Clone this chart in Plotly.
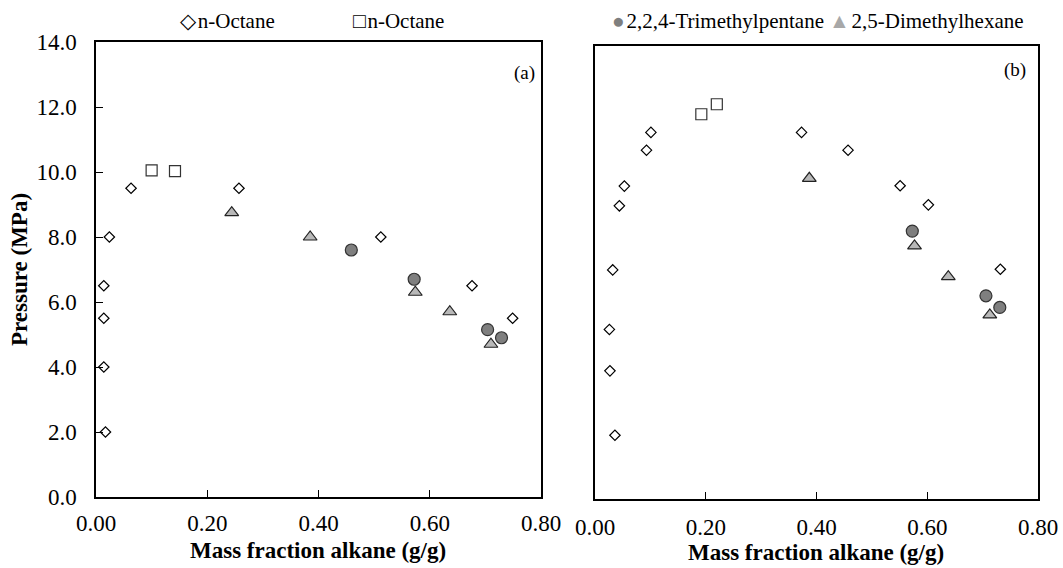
import plotly.graph_objects as go

# ---------------- data ----------------
# Panel (a)
a_oct_diam_x = [0.017, 0.014, 0.014, 0.014, 0.024, 0.063, 0.257, 0.512, 0.676, 0.749]
a_oct_diam_y = [2.0, 4.0, 5.5, 6.5, 8.0, 9.5, 9.5, 8.0, 6.5, 5.5]
a_oct_sq_x = [0.100, 0.142]
a_oct_sq_y = [10.05, 10.03]
a_tmp_x = [0.459, 0.572, 0.704, 0.729]
a_tmp_y = [7.6, 6.7, 5.15, 4.9]
a_dmh_x = [0.244, 0.385, 0.574, 0.636, 0.710]
a_dmh_y = [8.75, 8.0, 6.3, 5.7, 4.7]

# Panel (b)
b_oct_diam_x = [0.036, 0.027, 0.026, 0.032, 0.044, 0.053, 0.093, 0.101, 0.373, 0.457, 0.551, 0.602, 0.732]
b_oct_diam_y = [1.97, 3.96, 5.24, 7.08, 9.06, 9.67, 10.78, 11.33, 11.33, 10.78, 9.68, 9.09, 7.10]
b_oct_sq_x = [0.192, 0.220]
b_oct_sq_y = [11.89, 12.20]
b_tmp_x = [0.573, 0.706, 0.731]
b_tmp_y = [8.28, 6.28, 5.92]
b_dmh_x = [0.387, 0.577, 0.638, 0.713]
b_dmh_y = [9.91, 7.82, 6.87, 5.69]

x_ticks = [0.0, 0.2, 0.4, 0.6, 0.8]
y_ticks = [0, 2, 4, 6, 8, 10, 12, 14]

W, H = 1063, 568
FONT = "Liberation Serif, Times New Roman, serif"

styles = {
    "diam": dict(symbol="diamond", size=8, color="white", line=dict(color="black", width=1.2)),
    "sq": dict(symbol="square", size=11, color="white", line=dict(color="#333333", width=1.2)),
    "tmp": dict(symbol="circle", size=12, color="#7f7f7f", line=dict(color="#333333", width=1.2)),
    "dmh": dict(symbol="triangle-up", size=12, color="#b8b8b8", line=dict(color="#222222", width=1.2)),
}

fig = go.Figure()

def add(xs, ys, key, name, xa, ya):
    fig.add_trace(go.Scatter(x=xs, y=ys, mode="markers", name=name, marker=styles[key],
                             xaxis=xa, yaxis=ya, showlegend=False))

add(a_oct_diam_x, a_oct_diam_y, "diam", "n-Octane", "x", "y")
add(a_oct_sq_x, a_oct_sq_y, "sq", "n-Octane", "x", "y")
add(a_dmh_x, a_dmh_y, "dmh", "2,5-Dimethylhexane", "x", "y")
add(a_tmp_x, a_tmp_y, "tmp", "2,2,4-Trimethylpentane", "x", "y")
add(b_oct_diam_x, b_oct_diam_y, "diam", "n-Octane", "x2", "y2")
add(b_oct_sq_x, b_oct_sq_y, "sq", "n-Octane", "x2", "y2")
add(b_dmh_x, b_dmh_y, "dmh", "2,5-Dimethylhexane", "x2", "y2")
add(b_tmp_x, b_tmp_y, "tmp", "2,2,4-Trimethylpentane", "x2", "y2")

def px(v):
    return v / W

def py(v):
    return 1 - v / H

axis_common = dict(showgrid=False, zeroline=False, showline=True, linecolor="black", linewidth=1.5,
                   mirror=True, automargin=False, tickfont=dict(family=FONT, size=23, color="black"))

fig.update_layout(
    width=W, height=H,
    margin=dict(l=0, r=0, t=0, b=0),
    paper_bgcolor="white", plot_bgcolor="white",
    font=dict(family=FONT, color="black"),
    xaxis=dict(domain=[px(96), px(541)], range=[0, 0.8], tickvals=x_ticks, tickformat=".2f",
               ticks="inside", ticklen=7, tickcolor="black", ticklabelstandoff=5, anchor="y", **axis_common),
    yaxis=dict(domain=[py(497), py(42)], range=[0, 14], tickvals=y_ticks, tickformat=".1f",
               ticks="inside", ticklen=7, tickcolor="black", ticklabelstandoff=13, anchor="x", **axis_common),
    xaxis2=dict(domain=[px(595), px(1038)], range=[0, 0.8], tickvals=x_ticks, tickformat=".2f",
                ticks="inside", ticklen=7, tickcolor="black", ticklabelstandoff=7, anchor="y2", **axis_common),
    yaxis2=dict(domain=[py(499), py(46)], range=[0, 14], showticklabels=False, ticks="",
                anchor="x2", **axis_common),
)

annots = []
TITLE_FONT = dict(family=FONT, size=23, color="black")
# axis titles
annots.append(dict(text="<b>Pressure (MPa)</b>", x=px(20), y=py(270), xref="paper", yref="paper",
                   textangle=-90, showarrow=False, font=TITLE_FONT,
                   xanchor="center", yanchor="middle"))
annots.append(dict(text="<b>Mass fraction alkane (g/g)</b>", x=px(318), y=py(550), xref="paper", yref="paper",
                   showarrow=False, font=TITLE_FONT, xanchor="center", yanchor="middle"))
annots.append(dict(text="<b>Mass fraction alkane (g/g)</b>", x=px(816), y=py(552), xref="paper", yref="paper",
                   showarrow=False, font=TITLE_FONT, xanchor="center", yanchor="middle"))
# panel labels
annots.append(dict(text="(a)", x=px(524), y=py(73), xref="paper", yref="paper", showarrow=False,
                   font=dict(family=FONT, size=19, color="black"), xanchor="center", yanchor="middle"))
annots.append(dict(text="(b)", x=px(1015), y=py(70), xref="paper", yref="paper", showarrow=False,
                   font=dict(family=FONT, size=19, color="black"), xanchor="center", yanchor="middle"))
# legend (as text)
GAP = "<span style='font-size:7px'> </span>"
legend_items = [
    ("<span style='font-size:21px'>◇</span>" + GAP + "n-Octane", 178),
    ("<span style='font-size:21px'>□</span>" + GAP + "n-Octane", 351),
    ("<span style='font-size:21px;color:#7f7f7f'>●</span>" + GAP + "2,2,4-Trimethylpentane", 610),
    ("<span style='font-size:21px;color:#a8a8a8'>▲</span>" + GAP + "2,5-Dimethylhexane", 827),
]
for txt, x0 in legend_items:
    annots.append(dict(text=txt, x=px(x0), y=py(21), xref="paper", yref="paper", showarrow=False,
                       font=dict(family=FONT, size=21, color="black"), xanchor="left", yanchor="middle"))

fig.update_layout(annotations=annots)

fig.write_html("out.html")
